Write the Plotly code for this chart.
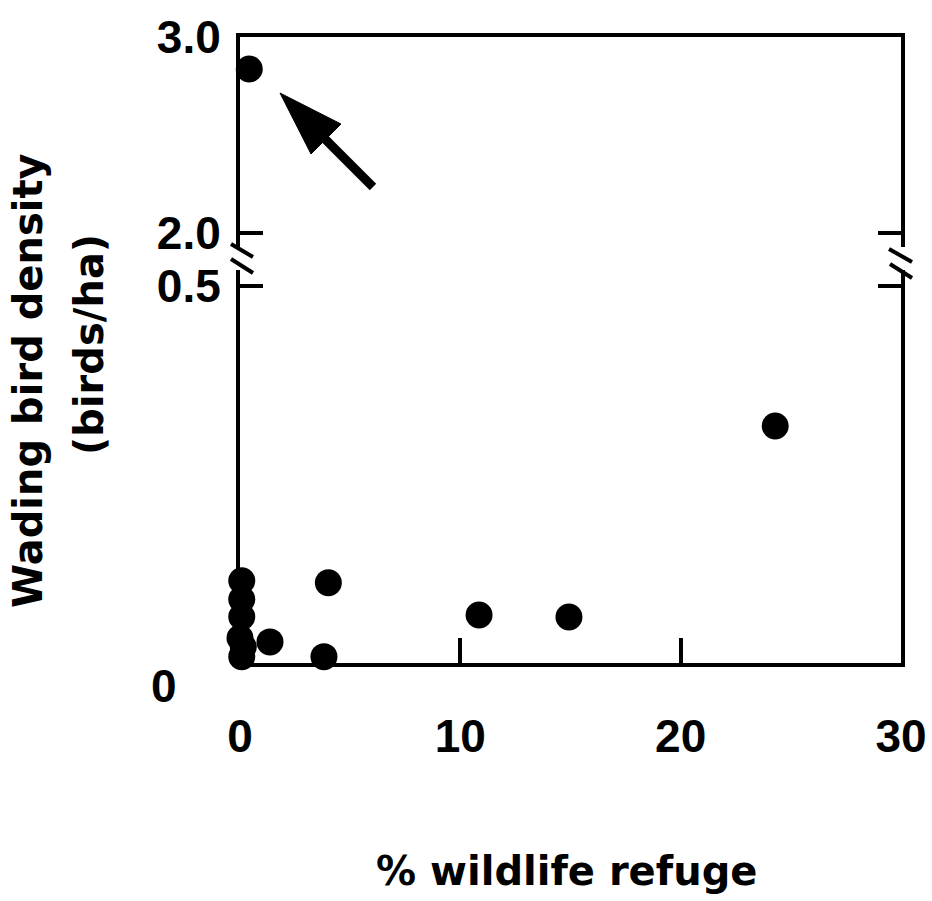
import plotly.graph_objects as go

# ---- data ----
refuge_low = [0.08, 0.08, 0.08, 0.0, 0.15, 0.08, 1.36, 3.81, 4.01, 10.85, 14.93, 24.29]
density_low = [0.109, 0.0845, 0.0614, 0.0332, 0.0212, 0.0084, 0.028, 0.0084, 0.1065, 0.0637, 0.061, 0.3143]
refuge_high = [0.42]
density_high = [2.837]

x_ticks = [0, 10, 20, 30]
x_ticktext = ["0", "10", "20", "30"]
y_low_ticks = [0.5]
y_low_ticktext = ["0.5"]
y_high_ticks = [2.0, 3.0]
y_high_ticktext = ["2.0", "3.0"]

# ---- layout geometry (pixels) ----
W, H = 932, 901
L, R, T, B = 240, 901, 37, 663


def P(px):
    return (px - L) / (R - L)


def Q(py):
    return (B - py) / (B - T)


TICKFONT = dict(family="Liberation Sans, Arial, Helvetica, sans-serif", size=46, color="black", weight="bold")
TITLEFONT = dict(family="DejaVu Sans, Liberation Sans, sans-serif", size=40, color="black", weight="bold")

fig = go.Figure()
fig.add_trace(go.Scatter(x=refuge_low, y=density_low, mode="markers",
                         marker=dict(size=27, color="black"), cliponaxis=False,
                         xaxis="x", yaxis="y", showlegend=False))
fig.add_trace(go.Scatter(x=refuge_high, y=density_high, mode="markers",
                         marker=dict(size=27, color="black"), cliponaxis=False,
                         xaxis="x2", yaxis="y2", showlegend=False))

axis_common = dict(showline=True, linewidth=4, linecolor="black", showgrid=False,
                   zeroline=False, ticks="inside", tickwidth=4, tickcolor="black",
                   tickfont=TICKFONT, automargin=False)

fig.update_layout(
    width=W, height=H, autosize=False,
    margin=dict(l=L, r=W - R, t=T, b=H - B, pad=0, autoexpand=False),
    paper_bgcolor="white", plot_bgcolor="white",
    xaxis=dict(axis_common, range=[0, 30], tickvals=x_ticks, ticktext=x_ticktext,
               ticklen=25, anchor="y", ticklabelstandoff=30),
    xaxis2=dict(showline=True, linewidth=4, linecolor="black", showgrid=False, zeroline=False,
                matches="x", range=[0, 30], anchor="y2", side="top", ticks="",
                showticklabels=False, automargin=False),
    yaxis=dict(axis_common, domain=[0, Q(270)], range=[0, 0.5 * (B - 270) / (B - 286)],
               tickvals=y_low_ticks, ticktext=y_low_ticktext, ticklen=23,
               mirror="ticks", anchor="x", ticklabelstandoff=6),
    yaxis2=dict(axis_common, domain=[Q(247), 1],
                range=[3.0 - (247 - T) / (233 - T), 3.0],
                tickvals=y_high_ticks, ticktext=y_high_ticktext, ticklen=23,
                mirror="ticks", anchor="x2", ticklabelstandoff=6),
)

# axis break marks
shapes = []
for (x0, y0, x1, y1) in [(231, 244, 253, 257), (231, 259, 253, 273),
                         (889, 249, 912, 262), (890, 264, 912, 278)]:
    shapes.append(dict(type="line", xref="paper", yref="paper",
                       x0=P(x0), y0=Q(y0), x1=P(x1), y1=Q(y1),
                       line=dict(color="black", width=4)))
# arrow shaft + head
shapes.append(dict(type="line", xref="paper", yref="paper",
                   x0=P(373), y0=Q(187), x1=P(322), y1=Q(136),
                   line=dict(color="black", width=9)))
head = "M {},{} L {},{} L {},{} Z".format(P(280), Q(93), P(341), Q(124), P(311), Q(154))
shapes.append(dict(type="path", xref="paper", yref="paper", path=head,
                   fillcolor="black", line=dict(color="black", width=1)))
fig.update_layout(shapes=shapes)

annotations = [
    dict(text="0", xref="paper", yref="y", x=0, y=0, xanchor="right", yanchor="middle",
         xshift=-61, yshift=-23, showarrow=False, font=TICKFONT),
    dict(text="% wildlife refuge", xref="paper", yref="paper", x=P(566), y=Q(871),
         xanchor="center", yanchor="middle", showarrow=False, font=TITLEFONT),
    dict(text="Wading bird density", xref="paper", yref="paper", x=P(28), y=Q(380),
         xanchor="center", yanchor="middle", textangle=-90, showarrow=False, font=TITLEFONT),
    dict(text="(birds/ha)", xref="paper", yref="paper", x=P(89), y=Q(345),
         xanchor="center", yanchor="middle", textangle=-90, showarrow=False, font=TITLEFONT),
]
fig.update_layout(annotations=annotations)

fig.write_html("out.html")
